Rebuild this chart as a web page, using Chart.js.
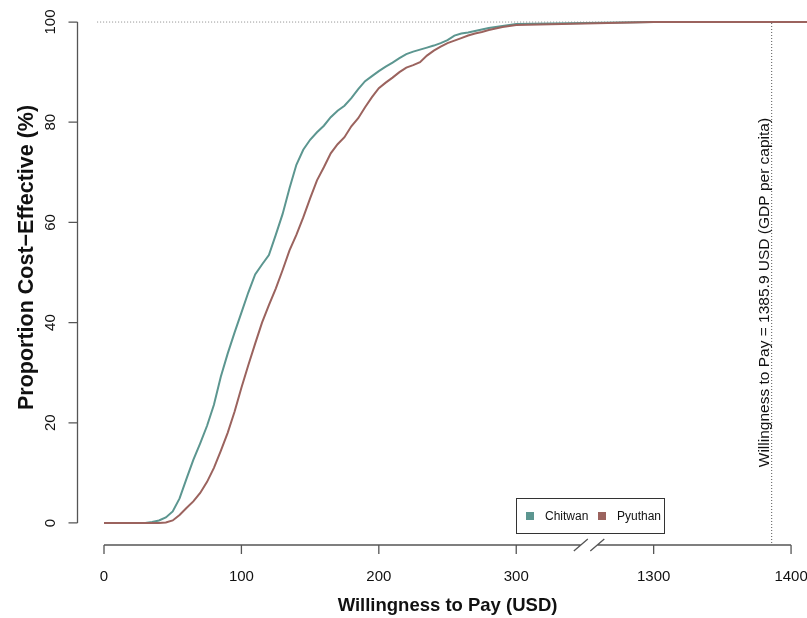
<!DOCTYPE html>
<html>
<head>
<meta charset="utf-8">
<script src="https://cdn.jsdelivr.net/npm/chart.js@4/dist/chart.umd.min.js"></script>
<style>
  html, body { margin: 0; padding: 0; background: #fff; }
</style>
</head>
<body>
<canvas id="ceac" width="807" height="618"></canvas>
<script>
// willingness to pay (USD) and proportion cost-effective (%) per district
var wtp = [0, 5, 10, 15, 20, 25, 30, 35, 40, 45, 50, 55, 60, 65, 70, 75, 80, 85, 90, 95,
  100, 105, 110, 115, 120, 125, 130, 135, 140, 145, 150, 155, 160, 165, 170, 175, 180, 185, 190, 195,
  200, 205, 210, 215, 220, 225, 230, 235, 240, 245, 250, 255, 260, 265, 270, 275, 280, 285, 290, 295,
  300, 1300, 1400, 1500];
var chitwan = [0, 0, 0, 0, 0, 0, 0, 0.2, 0.5, 1.1, 2.3, 4.9, 8.8, 12.6, 15.9, 19.4, 23.6, 29.2, 33.8, 38.0,
  42.0, 46.0, 49.6, 51.6, 53.5, 57.5, 61.7, 66.8, 71.5, 74.5, 76.5, 78.0, 79.3, 81.0, 82.3, 83.3, 84.8, 86.6, 88.2, 89.2,
  90.2, 91.1, 91.9, 92.8, 93.6, 94.1, 94.5, 94.9, 95.3, 95.8, 96.4, 97.3, 97.7, 97.9, 98.2, 98.5, 98.8, 99.0, 99.2, 99.4,
  99.6, 100, 100, 100];
var pyuthan = [0, 0, 0, 0, 0, 0, 0, 0, 0, 0.1, 0.5, 1.6, 3.0, 4.3, 6.0, 8.2, 11.0, 14.4, 18.0, 22.2,
  27.0, 31.5, 35.8, 40.0, 43.5, 46.8, 50.5, 54.4, 57.5, 61.0, 64.8, 68.4, 71.0, 73.8, 75.6, 77.0, 79.2, 80.8, 83.0, 85.0,
  86.8, 87.9, 88.9, 90.0, 90.9, 91.4, 92.0, 93.3, 94.3, 95.1, 95.8, 96.3, 96.8, 97.3, 97.7, 98.0, 98.4, 98.7, 99.0, 99.2,
  99.4, 100, 100, 100];
var districts = ["Chitwan", "Pyuthan"];
var colors = ["#5c9690", "#9b635e"];
var xTicks = [0, 100, 200, 300, 1300, 1400];
var yTicks = [0, 20, 40, 60, 80, 100];
var gdpPerCapita = 1385.9;
var gapFrom = 300, gapTo = 1300;

// broken axis: 300..1300 squeezed into one tick step
function axisPos(v) {
  if (v <= gapFrom) return v;
  if (v >= gapTo) return v - (gapTo - gapFrom) + 100;
  return gapFrom + (v - gapFrom) / (gapTo - gapFrom) * 100;
}

function toPoints(xs, ys) {
  return xs.map(function (x, i) { return { x: axisPos(x), y: ys[i] }; });
}

var FONT = "'Liberation Sans', Arial, sans-serif";

var rAxes = {
  id: 'rAxes',
  afterDraw: function (chart) {
    var ctx = chart.ctx, xs = chart.scales.x, ys = chart.scales.y, area = chart.chartArea;
    ctx.save();
    ctx.strokeStyle = '#555';
    ctx.fillStyle = '#111';
    ctx.lineWidth = 1.3;

    // y axis
    var ax = area.left + 0.5;
    ctx.beginPath();
    ctx.moveTo(ax, ys.getPixelForValue(0));
    ctx.lineTo(ax, ys.getPixelForValue(100));
    yTicks.forEach(function (t) {
      var py = ys.getPixelForValue(t);
      ctx.moveTo(ax, py);
      ctx.lineTo(ax - 9, py);
    });
    ctx.stroke();
    ctx.font = '15px ' + FONT;
    ctx.textAlign = 'center';
    ctx.textBaseline = 'middle';
    yTicks.forEach(function (t) {
      ctx.save();
      ctx.translate(51, ys.getPixelForValue(t));
      ctx.rotate(-Math.PI / 2);
      ctx.fillText(String(t), 0, 0);
      ctx.restore();
    });

    // x axis with break
    var by = area.bottom;
    var x0 = xs.getPixelForValue(axisPos(xTicks[0]));
    var x1 = xs.getPixelForValue(axisPos(xTicks[xTicks.length - 1]));
    var g1 = xs.getPixelForValue(347), g2 = xs.getPixelForValue(359);
    ctx.beginPath();
    ctx.moveTo(x0, by); ctx.lineTo(g1, by);
    ctx.moveTo(g2, by); ctx.lineTo(x1, by);
    [g1, g2].forEach(function (gx) {
      ctx.moveTo(gx - 7, by + 6);
      ctx.lineTo(gx + 7, by - 6);
    });
    xTicks.forEach(function (t) {
      var px = xs.getPixelForValue(axisPos(t));
      ctx.moveTo(px, by);
      ctx.lineTo(px, by + 9);
    });
    ctx.stroke();
    ctx.textBaseline = 'middle';
    xTicks.forEach(function (t) {
      ctx.fillText(String(t), xs.getPixelForValue(axisPos(t)), 577);
    });

    // titles
    ctx.font = 'bold 18.5px ' + FONT;
    ctx.fillText('Willingness to Pay (USD)', (x0 + x1) / 2, 606);
    ctx.font = 'bold 21.5px ' + FONT;
    ctx.save();
    ctx.translate(27, ys.getPixelForValue(53));
    ctx.rotate(-Math.PI / 2);
    ctx.fillText('Proportion Cost\u2212Effective (%)', 0, 0);
    ctx.restore();

    // GDP per capita annotation
    ctx.font = '15.5px ' + FONT;
    ctx.save();
    ctx.translate(xs.getPixelForValue(axisPos(gdpPerCapita)) - 7, ys.getPixelForValue(46));
    ctx.rotate(-Math.PI / 2);
    ctx.fillText('Willingness to Pay = ' + gdpPerCapita + ' USD (GDP per capita)', 0, 0);
    ctx.restore();

    // legend
    var lx = 516, ly = 498, lw = 148, lh = 35;
    ctx.fillStyle = '#fff';
    ctx.fillRect(lx, ly, lw, lh);
    ctx.strokeStyle = '#333';
    ctx.lineWidth = 1;
    ctx.strokeRect(lx + 0.5, ly + 0.5, lw, lh);
    ctx.font = '12px ' + FONT;
    ctx.textAlign = 'left';
    var offs = [10, 82];
    districts.forEach(function (d, i) {
      ctx.fillStyle = colors[i];
      ctx.fillRect(lx + offs[i], ly + 14, 8, 8);
      ctx.fillStyle = '#111';
      ctx.fillText(d, lx + offs[i] + 19, ly + 18.5);
    });
    ctx.restore();
  }
};

new Chart(document.getElementById('ceac').getContext('2d'), {
  type: 'line',
  data: {
    datasets: [
      {
        label: districts[0],
        data: toPoints(wtp, chitwan),
        borderColor: colors[0],
        borderWidth: 2,
        pointRadius: 0,
        order: 1
      },
      {
        label: districts[1],
        data: toPoints(wtp, pyuthan),
        borderColor: colors[1],
        borderWidth: 2,
        pointRadius: 0,
        order: 0
      },
      {
        label: 'ref100',
        data: [{ x: -5, y: 100 }, { x: 520, y: 100 }],
        borderColor: '#8a8a8a',
        borderWidth: 1,
        borderDash: [1, 2],
        pointRadius: 0,
        order: 3
      },
      {
        label: 'gdp',
        data: [{ x: axisPos(gdpPerCapita), y: -4 }, { x: axisPos(gdpPerCapita), y: 100 }],
        borderColor: '#555',
        borderWidth: 1,
        borderDash: [1, 2],
        pointRadius: 0,
        order: 3
      }
    ]
  },
  options: {
    responsive: false,
    devicePixelRatio: 1,
    animation: false,
    layout: { padding: { left: 77, right: 0, top: 0, bottom: 73 } },
    plugins: { legend: { display: false }, tooltip: { enabled: false } },
    scales: {
      x: { type: 'linear', display: false, min: -19.65, max: 511.6 },
      y: { type: 'linear', display: false, min: -4.4, max: 104.4 }
    }
  },
  plugins: [rAxes]
});
</script>
</body>
</html>
